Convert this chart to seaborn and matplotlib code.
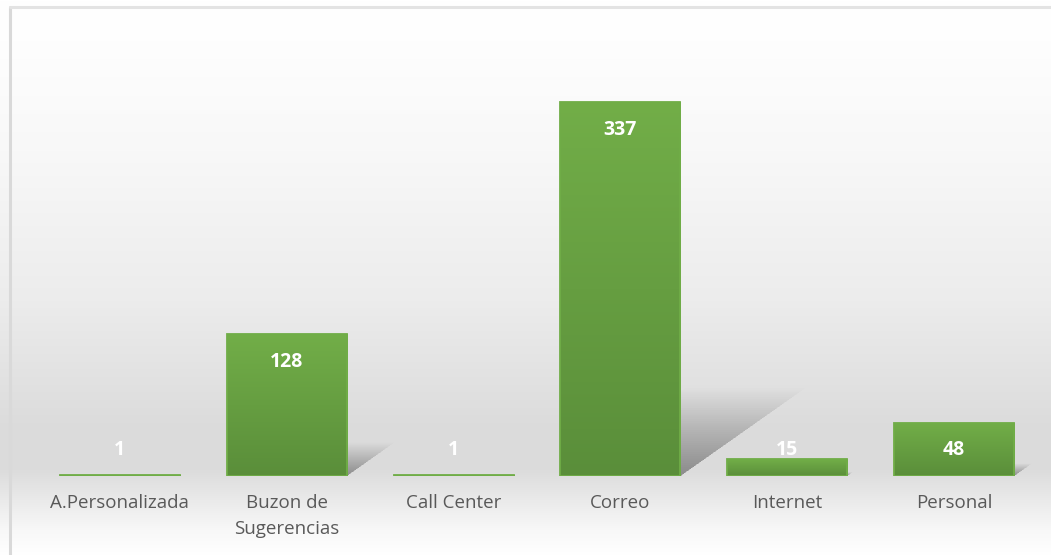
import numpy as np
import matplotlib
matplotlib.use("Agg")
import matplotlib.pyplot as plt
from matplotlib.patches import Polygon
from matplotlib.colors import LinearSegmentedColormap
import seaborn as sns

categories = ["A.Personalizada", "Buzon de\nSugerencias", "Call Center",
              "Correo", "Internet", "Personal"]
values = [1, 128, 1, 337, 15, 48]

W, H = 1051, 555
sns.set_theme(style="white")
plt.rcParams["font.family"] = ["Open Sans", "DejaVu Sans"]

fig = plt.figure(figsize=(W / 100, H / 100), dpi=100)
fig.patch.set_facecolor("white")

# background panel with vertical grey gradient
bg = fig.add_axes([0, 0, 1, 1], zorder=-2)
ys = np.arange(H)
stops_y = [0, 40, 150, 300, 430, 470, 500, 530, 555]
stops_v = [255, 254, 248, 236, 219, 220, 234, 248, 255]
col = np.interp(ys, stops_y, stops_v) / 255.0
img = np.dstack([np.tile(col[:, None], (1, W))] * 3)
bg.imshow(img, aspect="auto", extent=[0, W, H, 0], interpolation="none")
bg.plot([9.5, 9.5], [H + 5, 6.5], color="#d9d9d9", lw=2.2)
bg.plot([9.5, W + 5], [6.5, 6.5], color="#e3e3e3", lw=2.2)
bg.set_xlim(0, W)
bg.set_ylim(H, 0)
bg.axis("off")

ax = fig.add_axes([36.5 / W, (H - 476) / H, 1001 / W, 444 / H])
ax.patch.set_alpha(0)

sns.barplot(x=categories, y=values, color="#6aa343", width=0.72,
            saturation=1, ax=ax, zorder=3)
ax.set_ylim(0, 400)
ax.set_xlim(-0.5, len(categories) - 0.5)
bars = list(ax.patches)

green = LinearSegmentedColormap.from_list("g", ["#5a8e3a", "#72ae48"])
grad = np.linspace(0, 1, 256)[:, None]

for p, v in zip(bars, values):
    x0 = p.get_x()
    x1 = x0 + p.get_width()
    h = p.get_height()
    # soft perspective shadow
    n = 40
    for j in range(1, n + 1):
        f = j / n
        sh = 0.235 * h * f
        dx = 0.00222 * h * f
        poly = Polygon([(x0, 0), (x1, 0), (x1 + dx, sh), (x0 + dx, sh)],
                       closed=True, facecolor="black", alpha=0.009,
                       edgecolor="none", zorder=1)
        ax.add_patch(poly)
    # gradient fill, bar outline drawn on top
    im = ax.imshow(grad, cmap=green, aspect="auto", origin="lower",
                   extent=[x0, x1, 0, h], zorder=3.5)
    im.set_clip_path(p)
    p.set_facecolor("none")
    p.set_edgecolor("#70ad47")
    p.set_linewidth(1.3)
    p.set_zorder(4)
    # label
    y_lab = max(h - 25, 23.5)
    ax.text(x0 + p.get_width() / 2, y_lab, f"{v}", ha="center",
            va="center", color="white", fontsize=14, fontweight="bold",
            zorder=5)

ax.set_xlim(-0.5, len(categories) - 0.5)
ax.set_ylim(0, 400)
ax.set_xlabel("")
ax.set_ylabel("")
ax.set_yticks([])
ax.tick_params(axis="x", length=0, pad=13, labelsize=13.5, labelcolor="#595959")
for lab in ax.get_xticklabels():
    lab.set_linespacing(1.55)
for s in ax.spines.values():
    s.set_visible(False)

fig.savefig("out.png", dpi=100)
